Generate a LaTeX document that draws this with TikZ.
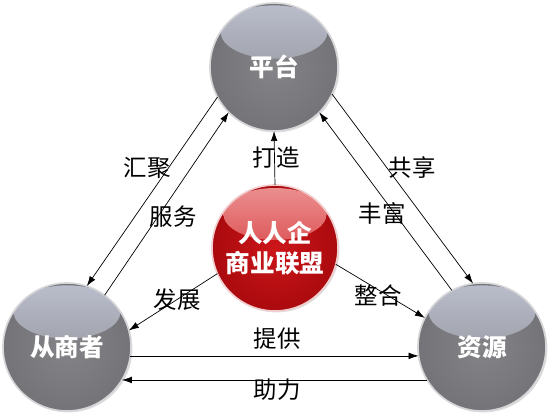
\documentclass[tikz,border=0pt]{standalone}
\usepackage{fontspec}
\setmainfont{Noto Sans CJK SC}
\usetikzlibrary{arrows.meta,shadows}
\definecolor{gbase}{RGB}{132,132,136}
\definecolor{gdark}{RGB}{116,116,120}
\definecolor{gloss}{RGB}{186,190,204}
\definecolor{grim}{RGB}{214,214,217}
\definecolor{rbase}{RGB}{204,22,26}
\definecolor{rdark}{RGB}{170,10,14}
\definecolor{rgloss}{RGB}{236,145,145}
\definecolor{rrim}{RGB}{242,205,205}
\tikzset{
  ball/.style={circle, inner sep=0pt, outer sep=0pt, text=white, align=center,
    font=\fontsize{21}{26}\selectfont\bfseries,
    drop shadow={opacity=0.25, shadow xshift=1.2pt, shadow yshift=-1.2pt}},
  grayball/.style={ball, minimum size=3.84cm, draw=grim, line width=1.4pt,
    inner color=gbase, outer color=gdark,
    path picture={\shade[top color=gloss, bottom color=gbase]
      ([yshift=1.05cm]path picture bounding box.center) ellipse [x radius=1.6cm, y radius=0.8cm];}},
  redball/.style={ball, minimum size=3.78cm, draw=rrim, line width=1.4pt,
    inner color=rbase, outer color=rdark,
    path picture={\shade[top color=rgloss, bottom color=rbase]
      ([yshift=1.02cm]path picture bounding box.center) ellipse [x radius=1.55cm, y radius=0.78cm];}},
  conn/.style={line width=0.6pt, -{Latex[length=3mm, width=2mm]}},
  lbl/.style={inner sep=0pt, font=\fontsize{20}{23}\selectfont, text=black}
}
\begin{document}
\begin{tikzpicture}[x=0.03cm, y=-0.03cm]
\useasboundingbox[fill=white] (0,0) rectangle (554,417);
\node[grayball] (top) at (274,67) {平台};
\node[grayball] (left) at (67,347) {从商者};
\node[grayball] (right) at (482,347) {资源};
\node[redball] (red) at (275,248) {人人企\\商业联盟};
% left side
\draw[conn] (top.208.5) -- (left.72.6);
\draw[conn] (left.54.4) -- (top.225.6);
% right side
\draw[conn] (top.335.3) -- (right.98.4);
\draw[conn] (right.118) -- (top.315);
% centre
\draw[conn] (red.90) -- (top.270);
\draw[conn] (red.204.7) -- (left.15.5);
\draw[conn] (red.345) -- (right.153.4);
% bottom
\draw[conn] (left.352) -- (right.188);
\draw[conn] (right.211) -- (left.329);
% labels
\node[lbl] (l1) at (147,168) {汇聚};
\node[lbl] (l2) at (173,217) {服务};
\node[lbl] (l3) at (276,158) {打造};
\node[lbl] (l4) at (412,168) {共享};
\node[lbl] (l5) at (382,213) {丰富};
\node[lbl] (l6) at (177,300) {发展};
\node[lbl] (l7) at (378,296) {整合};
\node[lbl] (l8) at (277,339) {提供};
\node[lbl] (l9) at (277,390) {助力};
\end{tikzpicture}
\end{document}
